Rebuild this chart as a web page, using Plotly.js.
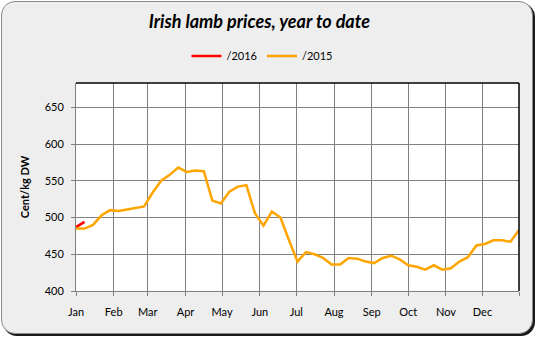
<!DOCTYPE html>
<html>
<head>
<meta charset="utf-8">
<script src="https://cdn.plot.ly/plotly-3.0.1.min.js"></script>
<style>
  html, body { margin: 0; padding: 0; width: 538px; height: 339px; overflow: hidden; background: #ffffff; }
  #frame { position: absolute; left: 1px; top: 1px; width: 530px; height: 331px;
           border: 1px solid #8a8a8a; border-radius: 14px; background: #eeeeee;
           box-shadow: 2px 2px 0 #1a1a1a; }
  #chart { position: absolute; left: 0; top: 0; width: 538px; height: 339px; }
</style>
</head>
<body>
<div id="frame"></div>
<div id="chart"></div>
<script>
// Week dates (x) for the 2015 series
const weeks2015 = [
  '2015-01-01','2015-01-08','2015-01-15','2015-01-22','2015-01-29',
  '2015-02-05','2015-02-12','2015-02-19','2015-02-26',
  '2015-03-05','2015-03-12','2015-03-19','2015-03-26',
  '2015-04-02','2015-04-09','2015-04-16','2015-04-23','2015-04-30',
  '2015-05-07','2015-05-14','2015-05-21','2015-05-28',
  '2015-06-04','2015-06-11','2015-06-18','2015-06-25',
  '2015-07-02','2015-07-09','2015-07-16','2015-07-23','2015-07-30',
  '2015-08-06','2015-08-13','2015-08-20','2015-08-27',
  '2015-09-03','2015-09-10','2015-09-17','2015-09-24',
  '2015-10-01','2015-10-08','2015-10-15','2015-10-22','2015-10-29',
  '2015-11-05','2015-11-12','2015-11-19','2015-11-26',
  '2015-12-03','2015-12-10','2015-12-17','2015-12-24','2015-12-31'
];
// Prices 2015 (cent/kg DW)
const prices2015 = [
  485, 485, 490, 503, 510,
  509, 511, 513, 515,
  534, 550, 558, 568,
  562, 564, 563, 523, 519,
  535, 542, 544, 506,
  489, 508, 500, 469,
  440, 453, 450, 445, 436,
  436, 445, 444, 440,
  438, 445, 448, 443,
  435, 433, 429, 435, 429,
  431, 440, 446, 462,
  464, 469, 469, 467, 483
];
// 2016 year to date (plotted on same calendar axis)
const weeks2016 = ['2015-01-01', '2015-01-08'];
const prices2016 = [487, 494];

const monthTicks = ['2015-01-01','2015-02-01','2015-03-01','2015-04-01','2015-05-01','2015-06-01',
                    '2015-07-01','2015-08-01','2015-09-01','2015-10-01','2015-11-01','2015-12-01','2015-12-31'];
const monthLabels = ['Jan','Feb','Mar','Apr','May','Jun','Jul','Aug','Sep','Oct','Nov','Dec',''];

const seriesNames = ['/2016', '/2015'];
const titleText = 'Irish lamb prices, year to date';
const yTitle = 'Cent/kg DW';

const FONT = 'Lato, "Liberation Sans", sans-serif';

const traces = [
  { x: weeks2016, y: prices2016, type: 'scatter', mode: 'lines', name: seriesNames[0],
    line: { color: '#ff0000', width: 2.5 } },
  { x: weeks2015, y: prices2015, type: 'scatter', mode: 'lines', name: seriesNames[1],
    line: { color: '#ffa500', width: 2.5 } }
];

const layout = {
  width: 538, height: 339,
  margin: { l: 76, r: 19, t: 83, b: 48 },
  paper_bgcolor: 'rgba(0,0,0,0)',
  plot_bgcolor: '#ffffff',
  font: { family: FONT, size: 11, color: '#000000' },
  title: { text: titleText, x: 0.482, xanchor: 'center', xref: 'container',
           y: 0.935, yanchor: 'middle', yref: 'container',
           font: { family: FONT, size: 18, weight: 'bold', style: 'italic', color: '#000000' } },
  showlegend: true,
  legend: { orientation: 'h', x: 0.487, xanchor: 'center', xref: 'container',
            y: 0.835, yanchor: 'middle', yref: 'container',
            bgcolor: 'rgba(0,0,0,0)', font: { family: FONT, size: 11 },
            traceorder: 'normal' },
  xaxis: {
    type: 'date', range: ['2015-01-01', '2015-12-31'],
    tickmode: 'array', tickvals: monthTicks, ticktext: monthLabels,
    showgrid: true, gridcolor: '#808080', gridwidth: 1,
    showline: true, linecolor: '#808080', linewidth: 1,
    ticks: 'outside', ticklen: 4, tickcolor: '#808080', ticklabelstandoff: 7,
    tickfont: { family: FONT, size: 11 }, zeroline: false, fixedrange: true
  },
  yaxis: {
    range: [400, 683], tick0: 400, dtick: 50,
    showgrid: true, gridcolor: '#808080', gridwidth: 1,
    showline: true, linecolor: '#808080', linewidth: 1,
    ticks: 'outside', ticklen: 4, tickcolor: '#808080', ticklabelstandoff: 5,
    tickfont: { family: FONT, size: 11 }, zeroline: false,
    title: { text: yTitle, standoff: 12, font: { family: FONT, size: 11, weight: 'bold' } }
  },
  shapes: [
    { type: 'line', xref: 'paper', yref: 'paper', x0: 0, x1: 1, y0: 1, y1: 1,
      line: { color: '#000000', width: 1.5 } },
    { type: 'line', xref: 'paper', yref: 'paper', x0: 1, x1: 1, y0: 0, y1: 1,
      line: { color: '#000000', width: 1.5 } }
  ]
};

Plotly.newPlot('chart', traces, layout, { displayModeBar: false, staticPlot: true });
</script>
</body>
</html>
